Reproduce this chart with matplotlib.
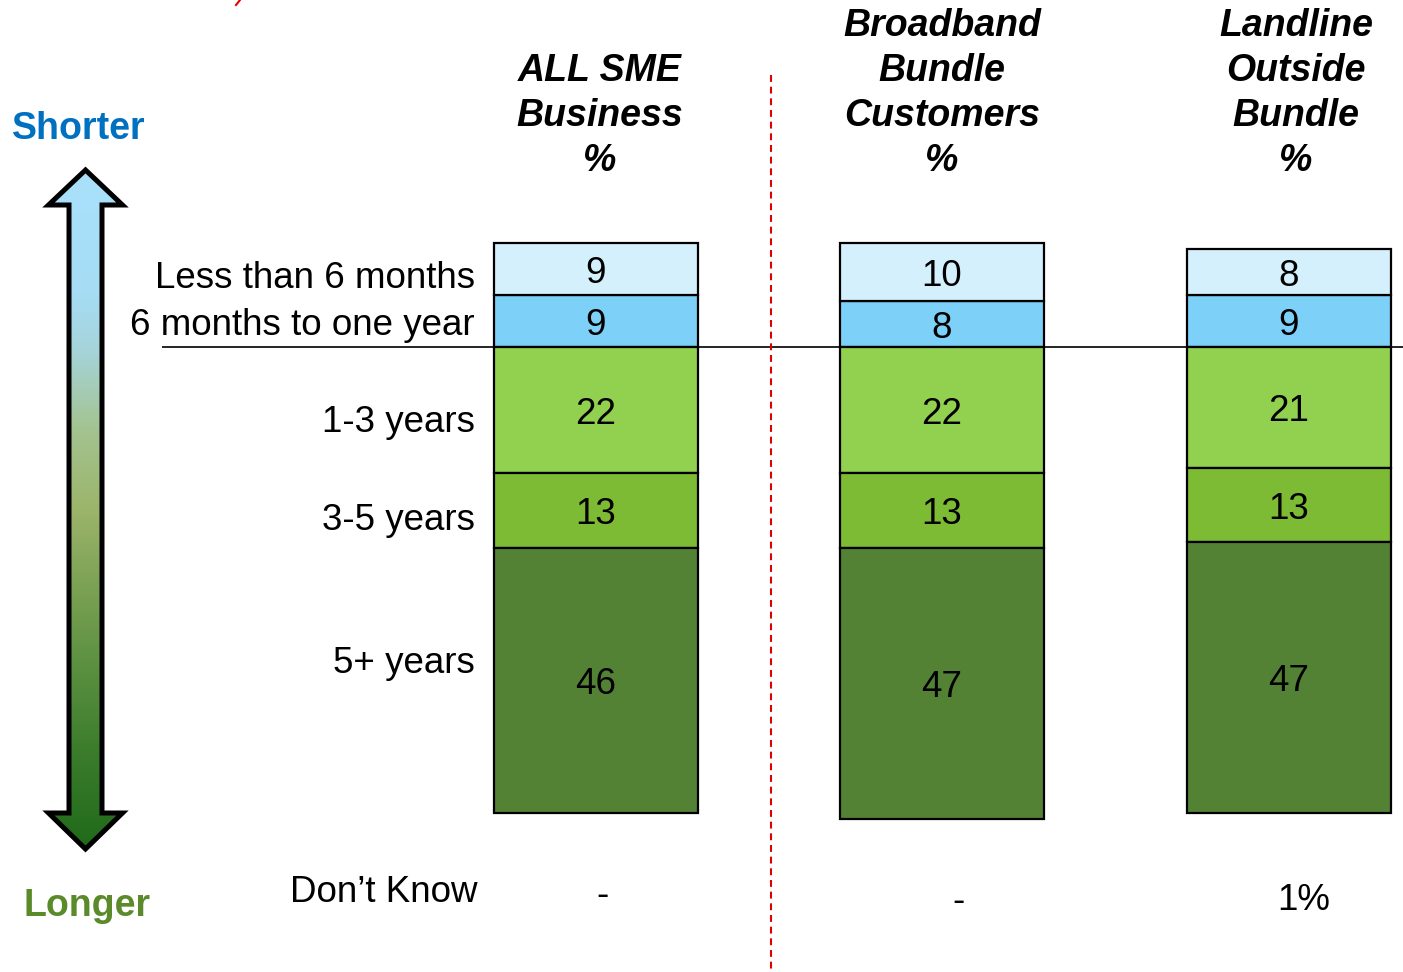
import numpy as np
import matplotlib
matplotlib.use("Agg")
import matplotlib.pyplot as plt
from matplotlib.patches import Polygon
from matplotlib.colors import LinearSegmentedColormap

plt.rcParams['font.family'] = ['Liberation Sans', 'DejaVu Sans']

# ---- data -------------------------------------------------------------
categories = ["Less than 6 months", "6 months to one year",
              "1-3 years", "3-5 years", "5+ years"]
groups = ["ALL SME\nBusiness\n%",
          "Broadband\nBundle\nCustomers\n%",
          "Landline\nOutside\nBundle\n%"]
less_6m = [9, 10, 8]
m6_to_1y = [9, 8, 9]
y1_3 = [22, 22, 21]
y3_5 = [13, 13, 13]
y5_plus = [46, 47, 47]
dont_know = ["-", "-", "1%"]

seg_colors = ["#D5F0FD", "#7DD1F8", "#92D050", "#7CBB33", "#548235"]

FS = 26.5
VA = "center_baseline"

# ---- layout -----------------------------------------------------------
W, H = 1403, 972
fig = plt.figure(figsize=(W / 100, H / 100), dpi=100)

# bar axes: x in pixels, y in percent with 0 at the short/long divide
px_per_unit = 5.75
base_px = 347
ax = fig.add_axes([0, 0, 1, 1])
ax.set_xlim(0, W)
ax.set_ylim(-(H - base_px) / px_per_unit, base_px / px_per_unit)
ax.axis("off")

# overlay axes in pixel coordinates for annotations
ov = fig.add_axes([0, 0, 1, 1], zorder=3)
ov.set_xlim(0, W)
ov.set_ylim(H, 0)
ov.axis("off")
ov.patch.set_alpha(0)

centers = [595.5, 942, 1289]
bar_w = 204
edge_lw = 1.6

for i, xc in enumerate(centers):
    # shorter durations stack upward from the divide
    ax.bar(xc, m6_to_1y[i], bottom=0, width=bar_w, color=seg_colors[1],
           edgecolor="black", linewidth=edge_lw, zorder=2)
    ax.bar(xc, less_6m[i], bottom=m6_to_1y[i], width=bar_w, color=seg_colors[0],
           edgecolor="black", linewidth=edge_lw, zorder=2)
    ax.text(xc, m6_to_1y[i] + less_6m[i] / 2, str(less_6m[i]), ha="center",
            va=VA, fontsize=FS, zorder=4)
    ax.text(xc, m6_to_1y[i] / 2, str(m6_to_1y[i]), ha="center",
            va=VA, fontsize=FS, zorder=4)
    # longer durations stack downward
    bottom = 0
    for val, col in zip([y1_3[i], y3_5[i], y5_plus[i]], seg_colors[2:]):
        ax.bar(xc, -val, bottom=bottom, width=bar_w, color=col,
               edgecolor="black", linewidth=edge_lw, zorder=2)
        ax.text(xc, bottom - val / 2, str(val), ha="center", va=VA,
                fontsize=FS, zorder=4)
        bottom -= val

# divide between shorter and longer
ax.hlines(0, 162, W, color="black", linewidth=1.2, zorder=3)

# red separator
ov.vlines(771, 75, H, color="#E00000", linewidth=1.5,
          linestyles=(0, (3.3, 2.3)), zorder=1)
ov.plot([236, 240], [5, 0], color="#E00000", linewidth=1.5)

# column headers
header_x = [600, 942, 1296]
header_bottom = 157
for hx, g in zip(header_x, groups):
    lines = g.split("\n")
    for k, line in enumerate(lines):
        y = header_bottom - (len(lines) - 1 - k) * 45
        ov.text(hx, y, line, ha="center", va=VA, fontsize=27,
                fontweight="bold", fontstyle="italic")

# category labels
cat_y = [274, 321, 418, 516, 659]
for c, y in zip(categories, cat_y):
    ov.text(475, y, c, ha="right", va=VA, fontsize=FS)

# don't know row
ov.text(478, 888, "Don\u2019t Know", ha="right", va=VA, fontsize=FS)
dk_pos = [(603, 891), (958, 897), (1304, 896)]
for (dx, dy), t in zip(dk_pos, dont_know):
    ov.text(dx, dy, t, ha="center", va=VA, fontsize=FS)

ov.text(12, 125, "Shorter", ha="left", va=VA, fontsize=27,
        fontweight="bold", color="#0070C0")
ov.text(24, 902, "Longer", ha="left", va=VA, fontsize=27,
        fontweight="bold", color="#5A8A2A")

# double-headed gradient arrow
cx = 85.5
top_tip, head_top, head_bot, bot_tip = 170, 205, 813, 849
half_head, half_shaft = 37, 16.5
arrow_pts = [
    (cx, top_tip), (cx + half_head, head_top), (cx + half_shaft, head_top),
    (cx + half_shaft, head_bot), (cx + half_head, head_bot), (cx, bot_tip),
    (cx - half_head, head_bot), (cx - half_shaft, head_bot),
    (cx - half_shaft, head_top), (cx - half_head, head_top),
]
grad = LinearSegmentedColormap.from_list("dur", [
    (0.00, "#A9E1FC"), (0.18, "#A6DDF5"), (0.27, "#A5D3D8"),
    (0.38, "#A3C491"), (0.50, "#9CB56B"), (0.60, "#80A457"),
    (0.72, "#5F9243"), (0.85, "#3D7E2D"), (1.00, "#1F6A1A"),
])
img = ov.imshow(np.linspace(0, 1, 256).reshape(-1, 1), cmap=grad,
                extent=[cx - half_head, cx + half_head, bot_tip, top_tip],
                origin="upper", aspect="auto", zorder=2)
clip = Polygon(arrow_pts, closed=True, transform=ov.transData,
               facecolor="none", edgecolor="none")
ov.add_patch(clip)
img.set_clip_path(clip)
ov.add_patch(Polygon(arrow_pts, closed=True, facecolor="none",
                     edgecolor="black", linewidth=3.6, joinstyle="miter",
                     zorder=3))
ov.set_xlim(0, W)
ov.set_ylim(H, 0)

fig.savefig("out.png", dpi=100)
